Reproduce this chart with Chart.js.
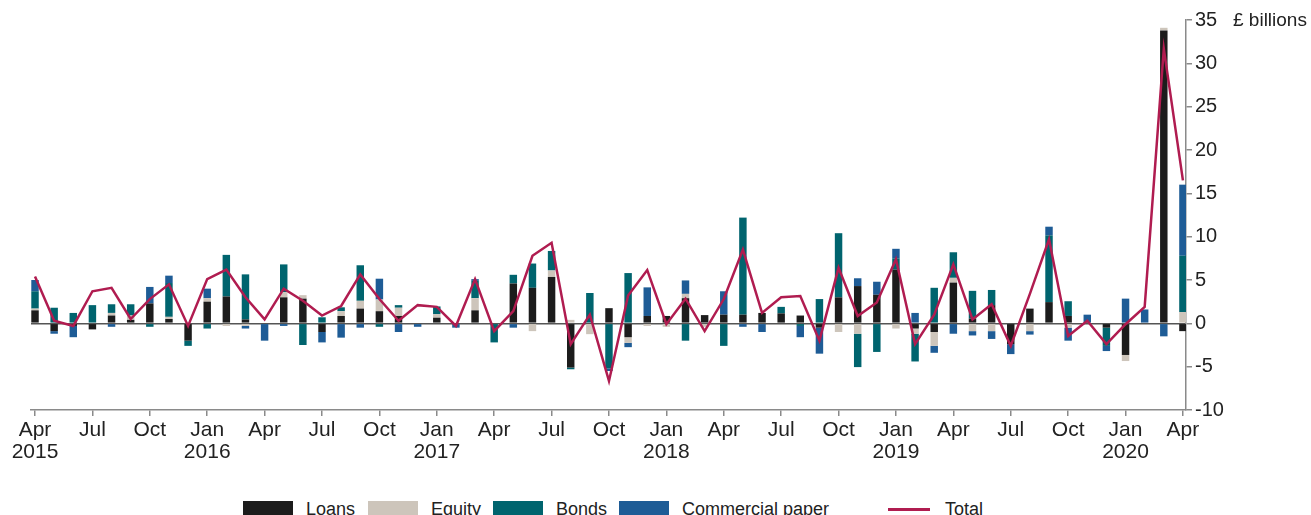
<!DOCTYPE html>
<html>
<head>
<meta charset="utf-8">
<script src="https://cdn.jsdelivr.net/npm/chart.js@4.4.1/dist/chart.umd.min.js"></script>
<style>
    body { margin: 0; background: #fff; font-family: "Liberation Sans", Arial, sans-serif; color: #222; }
    #wrap { position: relative; width: 1311px; height: 515px; overflow: hidden; }
    #chart { position: absolute; left: 0; top: 0; }
    #units { position: absolute; left: 1233px; top: 9px; font-size: 19px; white-space: nowrap; }
    .item { position: absolute; top: 499px; display: flex; align-items: center; font-size: 18px; white-space: nowrap; }
    .box { width: 50px; height: 17px; margin-right: 13px; }
    .line { width: 42px; height: 2.5px; margin-right: 15px; }
</style>
</head>
<body>
<div id="wrap">
    <canvas id="chart" width="1311" height="490"></canvas>
    <div id="units">£ billions</div>
    <div class="item" style="left:243px"><span class="box" style="background:#1c1c1c"></span>Loans</div>
    <div class="item" style="left:368px"><span class="box" style="background:#cdc5bb"></span>Equity</div>
    <div class="item" style="left:493px"><span class="box" style="background:#00646e"></span>Bonds</div>
    <div class="item" style="left:619px"><span class="box" style="background:#1e5c96"></span>Commercial paper</div>
    <div class="item" style="left:888px"><span class="line" style="background:#b01c50"></span>Total</div>
</div>
<script>
// Monthly net finance raised, Apr 2015 - Apr 2020 (£ billions)
const months = [
    'Apr 2015', 'May 2015', 'Jun 2015', 'Jul 2015', 'Aug 2015', 'Sep 2015', 'Oct 2015', 'Nov 2015', 'Dec 2015',
    'Jan 2016', 'Feb 2016', 'Mar 2016', 'Apr 2016', 'May 2016', 'Jun 2016', 'Jul 2016', 'Aug 2016', 'Sep 2016',
    'Oct 2016', 'Nov 2016', 'Dec 2016',
    'Jan 2017', 'Feb 2017', 'Mar 2017', 'Apr 2017', 'May 2017', 'Jun 2017', 'Jul 2017', 'Aug 2017', 'Sep 2017',
    'Oct 2017', 'Nov 2017', 'Dec 2017',
    'Jan 2018', 'Feb 2018', 'Mar 2018', 'Apr 2018', 'May 2018', 'Jun 2018', 'Jul 2018', 'Aug 2018', 'Sep 2018',
    'Oct 2018', 'Nov 2018', 'Dec 2018',
    'Jan 2019', 'Feb 2019', 'Mar 2019', 'Apr 2019', 'May 2019', 'Jun 2019', 'Jul 2019', 'Aug 2019', 'Sep 2019',
    'Oct 2019', 'Nov 2019', 'Dec 2019',
    'Jan 2020', 'Feb 2020', 'Mar 2020', 'Apr 2020'
];

const loans = [
    1.5, -0.9, -0.3, -0.7, 0.9, 0.4, 2.3, 0.5, -2.0,
    2.5, 3.1, 0.45, 0, 3.0, 2.85, -1.0, 0.85, 1.7, 1.4, 0.85, 0,
    0.65, 0, 1.5, 0, 4.6, 4.1, 5.35, -5.1, 0, 1.75, -1.6, 0.85,
    0.85, 2.9, 0.95, 1.0, 1.0, 1.2, 1.15, 0.9, -0.5, 3.0, 4.3, 3.3,
    6.2, -0.6, -1.0, 4.7, 0.55, 2.1, -2.4, 1.7, 2.45, 0.85, 0, -0.5,
    -3.65, 0, 33.8, -0.9
];
const equity = [
    0.2, 0, 0, 0, 0.3, 0.5, 0, 0.25, 0,
    0.4, -0.3, -0.3, 0, 0.6, 0.4, 0, 0.55, 0.9, 1.35, 0.95, 0,
    0.4, 0, 1.4, 0, 0, -0.9, 0.75, 0.4, -1.25, 0, -0.65, -0.3,
    -0.4, 0.5, -0.4, 0, 0, 0, 0, 0, 0, -1.0, -1.2, 0,
    -0.6, -0.6, -1.6, 0.55, -0.9, -0.9, 0, -0.9, 0, -0.5, 0, 0,
    -0.7, 0, 0.3, 1.3
];
const bonds = [
    2.0, 1.8, 1.2, 2.1, 1.0, 1.3, -0.4, 3.9, -0.6,
    -0.6, 4.8, 5.2, 0, 3.2, -2.5, 0.7, 0.45, 4.1, -0.4, 0.3, 0,
    0.9, 0, 2.0, -2.2, 1.0, 2.8, 2.25, -0.2, 3.5, -5.2, 5.8, 0,
    0, -2.0, 0, -2.6, 11.2, 0, 0.75, -0.3, 2.8, 7.4, -3.85, -3.3,
    1.3, -3.2, 4.1, 2.95, 3.2, 1.75, 0, 0, 7.7, 1.7, 0, -2.1,
    0, 0, 0, 6.5
];
const commercialPaper = [
    1.3, -0.3, -1.3, 0, -0.4, 0, 1.9, 0.85, 0,
    1.1, 0, -0.3, -2.0, -0.3, 0, -1.2, -1.65, -0.5, 2.4, -1.0, -0.4,
    0, -0.5, 0.2, 0, -0.5, 0, 0, 0, 0, -0.3, -0.5, 3.3,
    0, 1.55, 0, 2.7, -0.4, -1.0, 0, -1.3, -3.0, 0, 0.9, 1.5,
    1.1, 1.2, -0.8, -1.2, -0.5, -0.9, -1.15, -0.4, 1.0, -1.5, 1.0, -0.6,
    2.85, 1.6, -1.5, 8.2
];
const total = [
    5.4, 0.3, -0.3, 3.7, 4.1, 0.5, 2.8, 4.5, -0.3,
    5.1, 6.2, 3.0, 0.45, 4.0, 2.6, 0.9, 2.0, 5.65, 2.8, 0.3, 2.1,
    1.9, -0.3, 5.1, -0.9, 1.4, 7.8, 9.3, -2.4, 1.0, -6.65, 3.2, 6.15,
    -0.1, 2.85, -0.9, 2.8, 8.5, 1.2, 3.0, 3.15, -2.0, 6.4, 0.85, 2.4,
    7.4, -2.4, 1.0, 6.8, 0.45, 2.2, -2.6, 3.4, 9.7, -1.45, 0.3, -2.4,
    -0.1, 1.9, 31.7, 16.5
];

// Tick labels, one every three months
const tickMonths = ['Apr', 'Jul', 'Oct', 'Jan', 'Apr', 'Jul', 'Oct', 'Jan', 'Apr', 'Jul', 'Oct',
    'Jan', 'Apr', 'Jul', 'Oct', 'Jan', 'Apr', 'Jul', 'Oct', 'Jan', 'Apr'];
const tickYears = ['2015', '', '', '2016', '', '', '', '2017', '', '', '',
    '2018', '', '', '', '2019', '', '', '', '2020', ''];

const FONT = '"Liberation Sans", Arial, sans-serif';

// month index on the x axis -> point objects for the linear scale
function toPoints(values) {
    return values.map((v, i) => ({x: i, y: v}));
}

function barSet(label, values, colour) {
    return {
        type: 'bar',
        label: label,
        data: toPoints(values),
        backgroundColor: colour,
        borderWidth: 0,
        stack: 'flows',
        order: 1
    };
}

let ctx = document.getElementById('chart').getContext('2d');
new Chart(ctx, {
    type: 'bar',
    data: {
        labels: months,
        datasets: [
            barSet('Loans', loans, '#1c1c1c'),
            barSet('Equity', equity, '#cdc5bb'),
            barSet('Bonds', bonds, '#00646e'),
            barSet('Commercial paper', commercialPaper, '#1e5c96'),
            {
                type: 'line',
                label: 'Total',
                data: toPoints(total),
                borderColor: '#b01c50',
                borderWidth: 2.5,
                pointRadius: 0,
                tension: 0,
                order: 0
            }
        ]
    },
    options: {
        responsive: false,
        animation: false,
        layout: {padding: {left: 31, top: 20, right: 0, bottom: 0}},
        plugins: {legend: {display: false}, tooltip: {enabled: false}},
        datasets: {bar: {barPercentage: 0.39, categoryPercentage: 1}},
        scales: {
            x: {
                type: 'linear',
                min: -0.21,
                max: 60.16,
                stacked: true,
                offset: false,
                grid: {display: true, offset: false, drawOnChartArea: false, tickLength: 6, color: '#8a8a8a', lineWidth: 1.5},
                border: {color: '#8a8a8a', width: 1.5},
                afterBuildTicks: function (scale) {
                    scale.ticks = tickMonths.map((m, k) => ({value: k * 3}));
                },
                afterFit: function (scale) {
                    scale.height = 80;
                },
                ticks: {
                    autoSkip: false,
                    maxRotation: 0,
                    padding: 3,
                    color: '#222',
                    font: {family: FONT, size: 21, lineHeight: 1.05},
                    callback: function (value, k) {
                        return tickYears[k] ? [tickMonths[k], tickYears[k]] : tickMonths[k];
                    }
                }
            },
            y: {
                position: 'right',
                min: -10,
                max: 35,
                stacked: true,
                grid: {
                    drawOnChartArea: true,
                    tickLength: 6,
                    lineWidth: 1.5,
                    tickColor: '#8a8a8a',
                    color: c => (c.tick && c.tick.value === 0) ? '#555' : 'rgba(0,0,0,0)'
                },
                border: {color: '#8a8a8a', width: 1.5},
                afterFit: function (scale) {
                    scale.width = 125;
                },
                ticks: {
                    stepSize: 5,
                    padding: 3,
                    color: '#222',
                    font: {family: FONT, size: 20}
                }
            }
        }
    }
});
</script>
</body>
</html>
